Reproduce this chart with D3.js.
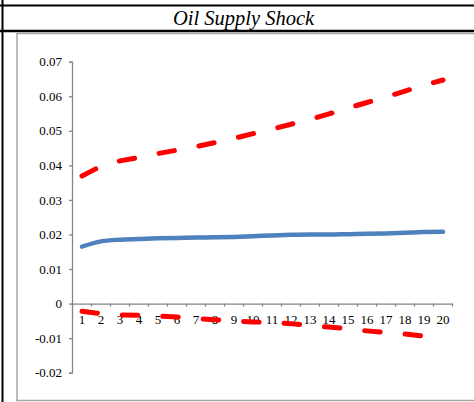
<!DOCTYPE html>
<html>
<head>
<meta charset="utf-8">
<script src="https://cdn.jsdelivr.net/npm/d3@7"></script>
<style>
  html, body { margin: 0; padding: 0; background: #fff; }
  svg { display: block; }
</style>
</head>
<body>
<svg id="chart" width="474" height="402"></svg>
<script>
const title = "Oil Supply Shock";
const periods = [1,2,3,4,5,6,7,8,9,10,11,12,13,14,15,16,17,18,19,20];
const response = [0.0165,0.0180,0.0185,0.0187,0.0189,0.0190,0.0191,0.0192,0.0193,0.0195,0.0197,0.0199,0.0200,0.0200,0.0201,0.0202,0.0203,0.0205,0.0207,0.0208];
const upperBand = [0.0369,0.0398,0.0413,0.0423,0.0434,0.0444,0.0454,0.0466,0.0478,0.0492,0.0505,0.0519,0.0533,0.0549,0.0566,0.0582,0.0598,0.0615,0.0632,0.0647];
const lowerBand = [-0.0022,-0.0029,-0.0033,-0.0034,-0.0036,-0.0039,-0.0043,-0.0047,-0.0050,-0.0053,-0.0055,-0.0058,-0.0063,-0.0068,-0.0073,-0.0079,-0.0084,-0.0088,-0.0094,-0.0098];
const yTicks = [-0.02,-0.01,0,0.01,0.02,0.03,0.04,0.05,0.06,0.07];
const yTickLabels = ["-0.02","-0.01","0","0.01","0.02","0.03","0.04","0.05","0.06","0.07"];

const svg = d3.select("#chart");

// outer table frame
svg.append("line").attr("x1", 0).attr("x2", 474).attr("y1", 5.5).attr("y2", 5.5)
  .attr("stroke", "#000").attr("stroke-width", 2);
svg.append("line").attr("x1", 0).attr("x2", 474).attr("y1", 31).attr("y2", 31)
  .attr("stroke", "#000").attr("stroke-width", 2.5);
svg.append("line").attr("x1", 2.5).attr("x2", 2.5).attr("y1", 0).attr("y2", 402)
  .attr("stroke", "#000").attr("stroke-width", 2);

const fontFam = "'Liberation Serif', 'Times New Roman', serif";

// title
svg.append("text").attr("x", 243.5).attr("y", 24.5)
  .attr("text-anchor", "middle")
  .attr("font-family", fontFam)
  .attr("font-style", "italic").attr("font-size", 20.5).attr("fill", "#000")
  .text(title);

// chart area border
svg.append("rect").attr("x", 17).attr("y", 33.5).attr("width", 470).attr("height", 367)
  .attr("fill", "none").attr("stroke", "#a6a6a6").attr("stroke-width", 1.5);

const x = d3.scaleBand().domain(periods).range([72.5, 452.5]).padding(0);
const y = d3.scaleLinear().domain([-0.02, 0.07]).range([372.7, 61.7]);

// y axis
const yAxis = svg.append("g").attr("transform", "translate(72,0)")
  .call(d3.axisLeft(y).tickValues(yTicks).tickSize(3).tickPadding(7)
    .tickFormat((d, i) => yTickLabels[i]));
yAxis.select(".domain").attr("stroke", "#868686").attr("stroke-width", 1.3);
yAxis.selectAll(".tick line").attr("stroke", "#868686").attr("stroke-width", 1.3);
yAxis.selectAll("text").attr("font-family", fontFam).attr("font-size", 13).attr("fill", "#000");

// x axis at zero
const xAxis = svg.append("g").attr("transform", `translate(0,${y(0)})`)
  .call(d3.axisBottom(x).tickSize(0).tickPadding(11.5));
xAxis.select(".domain").attr("stroke", "#868686").attr("stroke-width", 1.3);
xAxis.selectAll("text").attr("font-family", fontFam).attr("font-size", 13).attr("fill", "#000");
// boundary tick marks
const bounds = periods.map(p => x(p)).concat([x(periods[periods.length - 1]) + x.bandwidth()]);
xAxis.selectAll(".btick").data(bounds).enter().append("line")
  .attr("x1", d => d).attr("x2", d => d).attr("y1", 0).attr("y2", 3)
  .attr("stroke", "#868686").attr("stroke-width", 1.3);

const line = d3.line()
  .x((d, i) => x(periods[i]) + x.bandwidth() / 2)
  .y(d => y(d))
  .curve(d3.curveMonotoneX);

svg.append("path").datum(response).attr("d", line)
  .attr("fill", "none").attr("stroke", "#4F81BD").attr("stroke-width", 4.5)
  .attr("stroke-linecap", "round").attr("stroke-linejoin", "round");

const bandLine = d3.line()
  .x((d, i) => x(periods[i]) + x.bandwidth() / 2)
  .y(d => y(d));

[upperBand, lowerBand].forEach(band => {
  svg.append("path").datum(band).attr("d", bandLine)
    .attr("fill", "none").attr("stroke", "#FF0000").attr("stroke-width", 5)
    .attr("stroke-dasharray", "15.5,25")
    .attr("stroke-linecap", "round").attr("stroke-linejoin", "round");
});
</script>
</body>
</html>
